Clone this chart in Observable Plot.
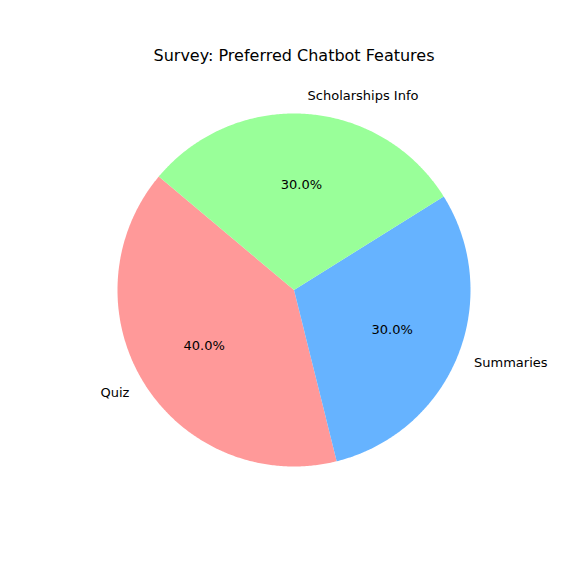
<!DOCTYPE html>
<html>
<head>
<meta charset="utf-8">
<script src="https://cdn.jsdelivr.net/npm/d3@7"></script>
<script src="https://cdn.jsdelivr.net/npm/@observablehq/plot@0.6"></script>
<style>
  html, body { margin: 0; padding: 0; background: #fff; }
  svg { display: block; }
</style>
</head>
<body>
<div id="chart"></div>
<script>
const categories = ["Quiz", "Summaries", "Scholarships Info"];
const values = [40, 30, 30];
const colors = ["#ff9999", "#66b3ff", "#99ff99"];
const titleText = "Survey: Preferred Chatbot Features";

const startAngle = 140; // degrees, counter-clockwise
const total = d3.sum(values);

// Build slice geometry in unit-circle data space
const slices = [];
let a = startAngle;
categories.forEach((c, i) => {
  const span = values[i] / total * 360;
  slices.push({category: c, value: values[i], a0: a, a1: a + span, color: colors[i]});
  a += span;
});

const outline = [];
for (const s of slices) {
  outline.push({category: s.category, x: 0, y: 0});
  const n = Math.max(2, Math.ceil((s.a1 - s.a0) * 2));
  for (let k = 0; k <= n; k++) {
    const t = (s.a0 + (s.a1 - s.a0) * k / n) * Math.PI / 180;
    outline.push({category: s.category, x: Math.cos(t), y: Math.sin(t)});
  }
  outline.push({category: s.category, x: 0, y: 0});
}

const labels = slices.map(s => {
  const m = (s.a0 + s.a1) / 2 * Math.PI / 180;
  const lx = 1.1 * Math.cos(m), ly = 1.1 * Math.sin(m);
  return {
    category: s.category,
    x: lx, y: ly,
    anchor: lx >= 0 ? "start" : "end",
    px: 0.6 * Math.cos(m), py: 0.6 * Math.sin(m),
    pct: (s.value / total * 100).toFixed(1) + "%"
  };
});

const W = 573, H = 573, cx = 293.5, cy = 289.5, R = 176.5;

const chart = Plot.plot({
  width: W,
  height: H,
  margin: 0,
  x: {domain: [-cx / R, (W - cx) / R], axis: null},
  y: {domain: [-(H - cy) / R, cy / R], axis: null},
  color: {domain: categories, range: colors},
  style: {fontFamily: "DejaVu Sans, sans-serif", background: "#fff"},
  marks: [
    Plot.line(outline, {x: "x", y: "y", z: "category", fill: "category", stroke: "none", curve: "linear"}),
    Plot.text(labels.filter(d => d.anchor === "start"), {x: "x", y: "y", text: "category", textAnchor: "start", fontSize: 13, fill: "#000"}),
    Plot.text(labels.filter(d => d.anchor === "end"), {x: "x", y: "y", text: "category", textAnchor: "end", fontSize: 13, fill: "#000"}),
    Plot.text(labels, {x: "px", y: "py", text: "pct", fontSize: 13, fill: "#000"}),
    Plot.text([titleText], {x: [0], y: [(cy - 55) / R], text: d => d, fontSize: 16, fill: "#000"})
  ]
});
document.getElementById("chart").appendChild(chart);
</script>
</body>
</html>
